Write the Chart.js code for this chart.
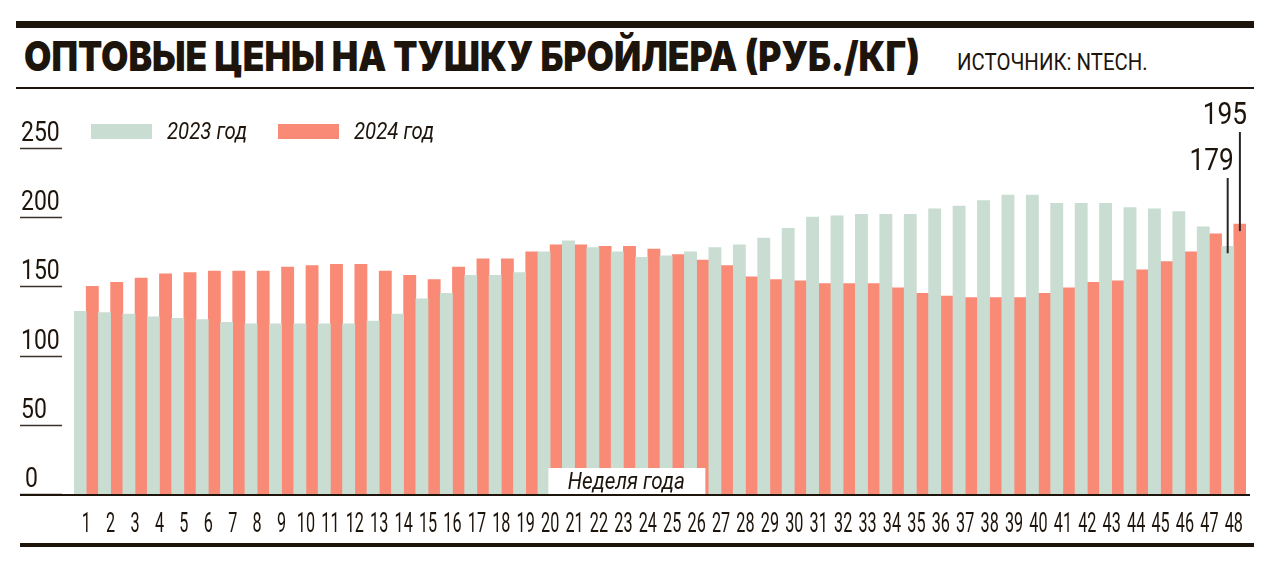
<!DOCTYPE html>
<html lang="ru">
<head>
<meta charset="utf-8">
<title>Оптовые цены на тушку бройлера</title>
<script src="https://cdn.jsdelivr.net/npm/chart.js@4.4.1/dist/chart.umd.min.js"></script>
<style>
  html, body { margin: 0; padding: 0; background: #fff; }
  #wrap { position: relative; width: 1276px; height: 568px; overflow: hidden; }
  #chart { position: absolute; left: 0; top: 0; }
  .rule { position: absolute; background: #1d140c; }
  #title {
    position: absolute; left: 24px; top: 36px;
    font: 900 41px/41px Inter, "DejaVu Sans", sans-serif;
    color: #1d140c; white-space: nowrap; transform-origin: 0 0;
  }
  #source {
    position: absolute; left: 957px; top: 50px;
    font: 400 24px/24px Roboto, sans-serif;
    color: #1d140c; white-space: nowrap; transform-origin: 0 0;
  }
</style>
</head>
<body>
<div id="wrap">
  <div class="rule" style="left:16px;top:21px;width:1238px;height:7px"></div>
  <div id="title">ОПТОВЫЕ ЦЕНЫ НА ТУШКУ БРОЙЛЕРА (РУБ./КГ)</div>
  <div id="source">ИСТОЧНИК: NTECH.</div>
  <div class="rule" style="left:16px;top:87px;width:1238px;height:2px"></div>
  <div class="rule" style="left:20px;top:543px;width:1234px;height:4px"></div>
  <canvas id="chart" width="1276" height="568"></canvas>
</div>
<script>
// данные (руб./кг), неделя года
const weeks = ['1','2','3','4','5','6','7','8','9','10','11','12','13','14','15','16',
  '17','18','19','20','21','22','23','24','25','26','27','28','29','30','31','32',
  '33','34','35','36','37','38','39','40','41','42','43','44','45','46','47','48'];
const prices2023 = [132, 131, 130, 128, 127, 126, 124, 123, 123, 123, 123, 123, 125, 130, 141, 145,
  158, 158, 160, 175, 183, 178, 175, 171, 172, 175, 178, 180, 185, 192, 200, 201,
  202, 202, 202, 206, 208, 212, 216, 216, 210, 210, 210, 207, 206, 204, 193, 179];
const prices2024 = [150, 153, 156, 159, 160, 161, 161, 161, 164, 165, 166, 166, 161, 158, 155, 164,
  170, 170, 175, 180, 180, 179, 179, 177, 173, 169, 165, 157, 155, 154, 152, 152,
  152, 149, 145, 143, 142, 142, 142, 145, 149, 153, 154, 162, 168, 175, 188, 195];
const yTicks = [0, 50, 100, 150, 200, 250];
const seriesNames = ['2023 год', '2024 год'];
const axisTitle = 'Неделя года';

const INK = '#1d140c';
const GREEN = '#c9ddd2';
const RED = '#f98a76';

// подгоняем ширину заголовков под макет
function fitWidth(id, target) {
    const el = document.getElementById(id);
    const w = el.offsetWidth;
    if (w > 0) el.style.transform = 'scaleX(' + (target / w) + ')';
}
fitWidth('title', 896);
fitWidth('source', 191);

// узкий текст на канве
function narrowText(ctx, text, x, y, font, sx, align) {
    ctx.save();
    ctx.font = font;
    ctx.fillStyle = INK;
    ctx.textAlign = align || 'left';
    ctx.textBaseline = 'alphabetic';
    ctx.translate(x, y);
    ctx.scale(sx, 1);
    ctx.fillText(text, 0, 0);
    ctx.restore();
}

const axesPlugin = {
    id: 'newsAxes',
    afterDatasetsDraw(chart) {
        const ctx = chart.ctx;
        const xs = chart.scales.x;
        const ys = chart.scales.y;
        const area = chart.chartArea;
        const y0 = ys.getPixelForValue(0);

        // подпись оси X в белой плашке
        const cx = xs.getPixelForValue(22) + 3;
        ctx.save();
        ctx.fillStyle = '#fff';
        ctx.fillRect(cx - 78, y0 - 26, 157, 26);
        ctx.restore();
        narrowText(ctx, axisTitle, cx, y0 - 5, 'italic 400 24px Roboto', 0.86, 'center');

        // шкала Y: число над короткой линейкой
        ctx.save();
        ctx.strokeStyle = '#3a332c';
        ctx.lineWidth = 1.5;
        yTicks.forEach(v => {
            const py = Math.round(ys.getPixelForValue(v)) + 0.5;
            ctx.beginPath();
            ctx.moveTo(20, py);
            ctx.lineTo(62, py);
            ctx.stroke();
        });
        ctx.restore();
        yTicks.forEach(v => {
            const py = ys.getPixelForValue(v);
            // ноль в макете чуть сдвинут вправо
            const lx = v === 0 ? 25 : 21;
            narrowText(ctx, String(v), lx, py - 7, '400 28px Roboto', 0.82, 'left');
        });

        // ось X и номера недель
        ctx.save();
        ctx.strokeStyle = INK;
        ctx.lineWidth = 2;
        ctx.beginPath();
        ctx.moveTo(20, y0 + 1);
        ctx.lineTo(area.right + 4, y0 + 1);
        ctx.stroke();
        ctx.restore();
        weeks.forEach((w, i) => {
            narrowText(ctx, w, xs.getPixelForValue(i), y0 + 38, '400 27px Roboto', 0.6, 'center');
        });

        // легенда
        const legendX = [91, 278];
        chart.data.datasets.forEach((ds, i) => {
            ctx.save();
            ctx.fillStyle = ds.backgroundColor;
            ctx.fillRect(legendX[i], 124, 61, 15);
            ctx.restore();
            narrowText(ctx, ds.label, legendX[i] + 76, 139, 'italic 400 24px Roboto', 0.85, 'left');
        });

        // выноски с последними значениями
        const callouts = [
            { dataset: 1, textBase: 124, dx: 7 },
            { dataset: 0, textBase: 170, dx: 6 }
        ];
        callouts.forEach(c => {
            const data = chart.data.datasets[c.dataset].data;
            const bar = chart.getDatasetMeta(c.dataset).data[data.length - 1];
            narrowText(ctx, String(data[data.length - 1]), bar.x + c.dx, c.textBase,
                '400 32px Roboto', 0.82, 'right');
            ctx.save();
            ctx.strokeStyle = '#2b2520';
            ctx.lineWidth = 2;
            ctx.beginPath();
            ctx.moveTo(bar.x, c.textBase + 8);
            ctx.lineTo(bar.x, bar.y + 7);
            ctx.stroke();
            ctx.restore();
        });
    }
};

new Chart(document.getElementById('chart'), {
    type: 'bar',
    data: {
        labels: weeks,
        datasets: [
            { label: seriesNames[0], data: prices2023, backgroundColor: GREEN },
            { label: seriesNames[1], data: prices2024, backgroundColor: RED }
        ]
    },
    options: {
        responsive: false,
        animation: false,
        layout: { padding: { left: 74, right: 30, top: 148, bottom: 74 } },
        datasets: {
            bar: { categoryPercentage: 1, barPercentage: 1, borderWidth: 0 }
        },
        scales: {
            x: { display: false },
            y: { display: false, min: 0, max: 250 }
        },
        plugins: {
            legend: { display: false },
            tooltip: { enabled: false }
        }
    },
    plugins: [axesPlugin]
});
</script>
</body>
</html>
